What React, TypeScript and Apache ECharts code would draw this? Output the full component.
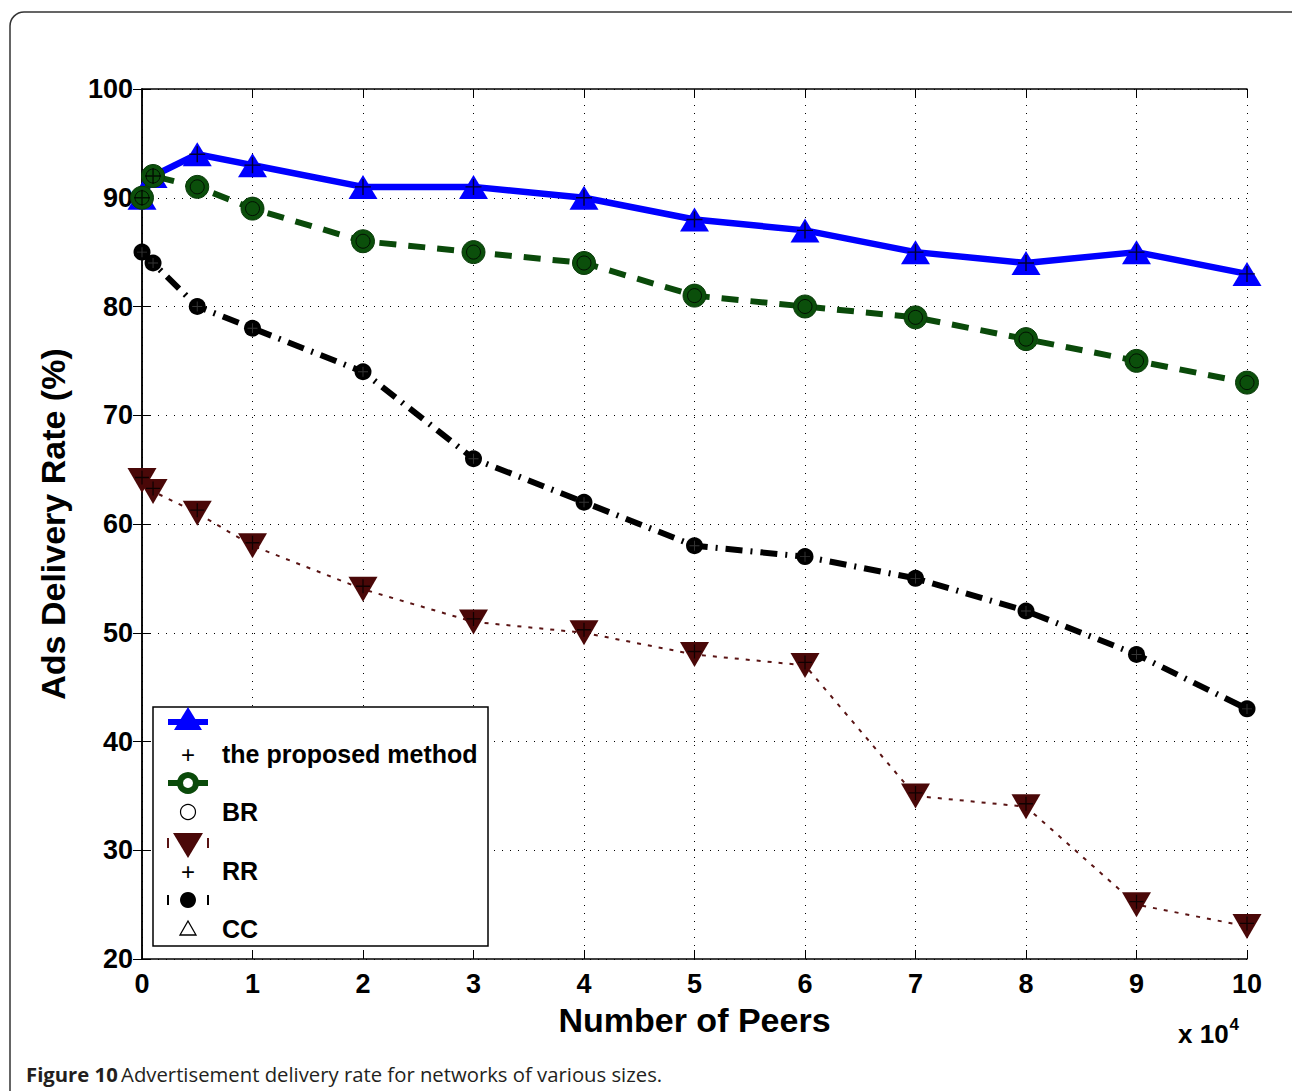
import React, { useEffect, useRef } from "react";
import * as echarts from "echarts";

const xPeers = [0, 0.1, 0.5, 1, 2, 3, 4, 5, 6, 7, 8, 9, 10];
const proposed = [90, 92, 94, 93, 91, 91, 90, 88, 87, 85, 84, 85, 83];
const br = [90, 92, 91, 89, 86, 85, 84, 81, 80, 79, 77, 75, 73];
const rr = [64, 63, 61, 58, 54, 51, 50, 48, 47, 35, 34, 25, 23];
const cc = [85, 84, 80, 78, 74, 66, 62, 58, 57, 55, 52, 48, 43];
const legendNames = ["the proposed method", "BR", "RR", "CC"];

const pair = (ys: number[]) => xPeers.map((x, i) => [x, ys[i]]);
const FONT = "Liberation Sans, Arial, Helvetica, sans-serif";
const PLUS = "path://M0,4.55H10V5.45H0Z M4.55,0H5.45V10H4.55Z";

export default function App() {
  const ref = useRef<HTMLDivElement>(null);
  useEffect(() => {
    const chart = echarts.init(ref.current!, null, { renderer: "svg" });
    const axisCommon = {
      type: "value",
      axisLine: { show: true, lineStyle: { color: "#000", width: 1.5 } },
      axisTick: { show: true, inside: true, length: 9, lineStyle: { color: "#000", width: 1 } },
    };
    const lg = { x0: 168, x1: 208, cx: 188 };
    const rowsY = [722, 754, 783, 812, 843, 871, 900, 929];
    const legText = (t: string, y: number) => ({
      type: "text",
      x: 222,
      y,
      style: { text: t, fontFamily: FONT, fontWeight: "bold", fontSize: 25, fill: "#000", verticalAlign: "middle" },
      z: 22,
    });
    chart.setOption({
      animation: false,
      backgroundColor: "#fff",
      grid: { left: 142, right: 45, top: 89, bottom: 132, containLabel: false },
      xAxis: [
        {
          ...axisCommon,
          min: 0,
          max: 10,
          interval: 1,
          position: "bottom",
          axisLabel: { color: "#000", fontFamily: FONT, fontWeight: "bold", fontSize: 27, margin: 11 },
          splitLine: { show: true, lineStyle: { color: "#000", width: 1, type: [1, 7] } },
          name: "Number of Peers",
          nameLocation: "middle",
          nameGap: 44,
          nameTextStyle: { color: "#000", fontFamily: FONT, fontWeight: "bold", fontSize: 34 },
        },
        {
          ...axisCommon,
          min: 0,
          max: 10,
          interval: 1,
          position: "top",
          axisLabel: { show: false },
          splitLine: { show: false },
        },
      ],
      yAxis: [
        {
          ...axisCommon,
          min: 20,
          max: 100,
          interval: 10,
          position: "left",
          axisLabel: { color: "#000", fontFamily: FONT, fontWeight: "bold", fontSize: 27, margin: 9 },
          splitLine: { show: true, lineStyle: { color: "#000", width: 1, type: [1, 7] } },
          name: "Ads Delivery Rate (%)",
          nameLocation: "middle",
          nameGap: 72,
          nameRotate: 90,
          nameTextStyle: { color: "#000", fontFamily: FONT, fontWeight: "bold", fontSize: 34 },
        },
        {
          ...axisCommon,
          min: 20,
          max: 100,
          interval: 10,
          position: "right",
          axisLabel: { show: false },
          splitLine: { show: false },
        },
      ],
      series: [
        {
          name: legendNames[0],
          type: "line",
          data: pair(proposed),
          lineStyle: { color: "#0000ff", width: 6.5 },
          symbol: "triangle",
          symbolSize: [29, 24],
          itemStyle: { color: "#0000ff" },
          z: 2,
        },
        {
          name: legendNames[1],
          type: "line",
          data: pair(br),
          lineStyle: { color: "#0a4a0a", width: 6, type: [17, 12] },
          symbol: "circle",
          symbolSize: 23,
          itemStyle: { color: "#0b4f0b", borderColor: "#0a3a0a", borderWidth: 1 },
          z: 3,
        },
        {
          name: legendNames[2],
          type: "line",
          data: pair(rr),
          lineStyle: { color: "#5a1414", width: 2, type: [4, 7] },
          symbol: "triangle",
          symbolRotate: 180,
          symbolSize: [29, 25],
          itemStyle: { color: "#4a0808" },
          z: 4,
        },
        {
          name: legendNames[3],
          type: "line",
          data: pair(cc),
          lineStyle: { color: "#000", width: 6, type: [17, 8, 2, 8] },
          symbol: "circle",
          symbolSize: 17,
          itemStyle: { color: "#000" },
          z: 5,
        },
        {
          type: "scatter",
          data: pair(br),
          symbol: "circle",
          symbolSize: 14,
          itemStyle: { color: "rgba(0,0,0,0)", borderColor: "#000", borderWidth: 1 },
          silent: true,
          z: 6,
        },
        {
          type: "scatter",
          data: pair(proposed),
          symbol: PLUS,
          symbolSize: 16,
          itemStyle: { color: "#000" },
          silent: true,
          z: 7,
        },
        {
          type: "scatter",
          data: pair(rr),
          symbol: PLUS,
          symbolOffset: [0, -3],
          symbolSize: 14,
          itemStyle: { color: "#000" },
          silent: true,
          z: 7,
        },
        {
          type: "scatter",
          data: pair(cc),
          symbol: PLUS,
          symbolSize: 10,
          itemStyle: { color: "#444" },
          silent: true,
          z: 7,
        },
      ],
      graphic: [
        {
          type: "rect",
          shape: { x: 10, y: 12, width: 1300, height: 1100, r: 14 },
          style: { fill: "none", stroke: "#333", lineWidth: 1.5 },
          z: -10,
        },
        {
          type: "text",
          left: 26,
          top: 1064,
          style: {
            text: "{b|Figure 10} {r|Advertisement delivery rate for networks of various sizes.}",
            rich: {
              b: { fontFamily: "Open Sans", fontWeight: "bold", fontSize: 20.3, fill: "#231f20" },
              r: { fontFamily: "Open Sans", fontSize: 20.3, fill: "#231f20" },
            },
          },
        },
        {
          type: "text",
          x: 1178,
          y: 1016,
          style: {
            text: "{a|x 10}{s|4}",
            rich: {
              a: { fontFamily: FONT, fontWeight: "bold", fontSize: 26, fill: "#000", verticalAlign: "bottom" },
              s: { fontFamily: FONT, fontWeight: "bold", fontSize: 17, fill: "#000", verticalAlign: "top", padding: [0, 0, 14, 1] },
            },
          },
        },
        {
          type: "rect",
          shape: { x: 153, y: 707, width: 335, height: 239 },
          style: { fill: "#fff", stroke: "#000", lineWidth: 1.5 },
          z: 20,
        },
        {
          type: "group",
          z: 21,
          children: [
            { type: "line", shape: { x1: lg.x0, y1: rowsY[0], x2: lg.x1, y2: rowsY[0] }, style: { stroke: "#0000ff", lineWidth: 6 }, z: 21 },
            { type: "polygon", shape: { points: [[lg.cx, rowsY[0] - 15], [lg.cx - 14, rowsY[0] + 8], [lg.cx + 14, rowsY[0] + 8]] }, style: { fill: "#0000ff" }, z: 22 },
            { type: "text", x: lg.cx, y: rowsY[1], style: { text: "+", fontFamily: FONT, fontSize: 24, fill: "#000", align: "center", verticalAlign: "middle" }, z: 22 },
            legText(legendNames[0], rowsY[1]),

            { type: "line", shape: { x1: lg.x0, y1: rowsY[2], x2: lg.x1, y2: rowsY[2] }, style: { stroke: "#0a4a0a", lineWidth: 6 }, z: 21 },
            { type: "circle", shape: { cx: lg.cx, cy: rowsY[2], r: 8 }, style: { fill: "#fff", stroke: "#0a4a0a", lineWidth: 6 }, z: 22 },
            { type: "circle", shape: { cx: lg.cx, cy: rowsY[3], r: 7.5 }, style: { fill: "none", stroke: "#000", lineWidth: 1.2 }, z: 22 },
            legText(legendNames[1], rowsY[3]),

            { type: "line", shape: { x1: lg.x0, y1: rowsY[4] - 5, x2: lg.x0, y2: rowsY[4] + 5 }, style: { stroke: "#5a1414", lineWidth: 2 }, z: 21 },
            { type: "line", shape: { x1: lg.x1, y1: rowsY[4] - 5, x2: lg.x1, y2: rowsY[4] + 5 }, style: { stroke: "#5a1414", lineWidth: 2 }, z: 21 },
            { type: "polygon", shape: { points: [[lg.cx - 15, rowsY[4] - 10], [lg.cx + 15, rowsY[4] - 10], [lg.cx, rowsY[4] + 15]] }, style: { fill: "#4a0808" }, z: 22 },
            { type: "text", x: lg.cx, y: rowsY[5], style: { text: "+", fontFamily: FONT, fontSize: 24, fill: "#000", align: "center", verticalAlign: "middle" }, z: 22 },
            legText(legendNames[2], rowsY[5]),

            { type: "line", shape: { x1: lg.x0, y1: rowsY[6] - 5, x2: lg.x0, y2: rowsY[6] + 5 }, style: { stroke: "#000", lineWidth: 2 }, z: 21 },
            { type: "line", shape: { x1: lg.x1, y1: rowsY[6] - 5, x2: lg.x1, y2: rowsY[6] + 5 }, style: { stroke: "#000", lineWidth: 2 }, z: 21 },
            { type: "circle", shape: { cx: lg.cx, cy: rowsY[6], r: 8 }, style: { fill: "#000" }, z: 22 },
            { type: "polygon", shape: { points: [[lg.cx, rowsY[7] - 8], [lg.cx - 8, rowsY[7] + 6], [lg.cx + 8, rowsY[7] + 6]] }, style: { fill: "none", stroke: "#000", lineWidth: 1.3 }, z: 22 },
            legText(legendNames[3], rowsY[7]),
          ],
        },
      ],
    });
    return () => chart.dispose();
  }, []);
  return (
    <div
      ref={ref}
      style={{ position: "absolute", left: 0, top: 0, width: 1292, height: 1091, background: "#fff" }}
    />
  );
}
